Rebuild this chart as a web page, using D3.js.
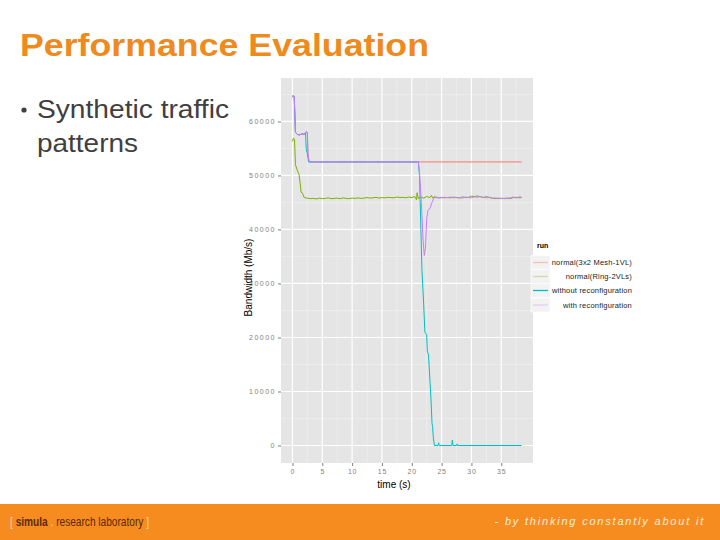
<!DOCTYPE html>
<html>
<head>
<meta charset="utf-8">
<script src="https://cdn.jsdelivr.net/npm/d3@7"></script>
<style>
  body { margin: 0; background: #fff; }
  svg { display: block; }
</style>
</head>
<body>
<script>
// series values: [time (s), bandwidth (Mb/s)]
var runNames = ['normal(3x2 Mesh-1VL)', 'normal(Ring-2VLs)', 'without reconfiguration', 'with reconfiguration'];
var runColors = ['#F8766D', '#7CAE00', '#00BFC4', '#C77CFF'];

var meshData = [[0,64500],[0.1,64800],[0.3,64600],[0.5,58000],[0.8,57600],[1.2,57500],[1.6,57700],[2.0,57600],
  [2.3,58100],[2.5,58000],[2.6,54000],[2.8,52500],[38.4,52500]];

var ringData = [[0,56300],[0.15,56900],[0.35,56600],[0.5,52000],[0.8,51000],[1.1,50200],[1.3,48500],[1.45,46900],
  [1.7,46700],[1.9,46000],[2.3,45800],[2.5,45800],[3,45700],[3.5,45750],[4,45650],[4.5,45800],[5,45700],[5.5,45750],
  [6,45850],[6.5,45700],[7,45750],[7.5,45800],[8,45700],[8.5,45850],[9,45750],[9.5,45700],[10,45800],[10.5,45750],
  [11,45850],[11.5,45750],[12,45800],[12.5,45900],[13,45800],[13.5,45850],[14,45950],[14.5,45800],[15,45900],
  [15.5,45850],[16,45950],[16.5,45900],[17,45850],[17.5,46000],[18,45900],[18.5,45950],[19,45850],[19.5,46000],
  [20,45900],[20.5,46100],[20.8,45500],[20.9,46800],[21.1,45700],[21.5,46000],[22,45800],[22.5,46100],[23,45900],
  [23.3,46300],[23.5,45800],[24,46000],[24.5,45900],[25,45850],[25.5,45950],[26,45900],[26.5,45850],[27,46000],
  [27.5,45900],[28,45800],[28.5,46050],[29,45900],[29.5,45950],[30,46150],[30.5,46100],[31,46200],[31.5,46050],
  [32,45900],[32.5,46100],[33,45950],[33.5,45800],[34,45700],[34.5,45800],[35,45700],[35.5,45750],[36,45800],
  [36.5,45700],[37,45900],[37.5,45950],[38,45850],[38.4,45900]];

var withoutData = [[0,64500],[0.1,64800],[0.3,64600],[0.5,58000],[0.8,57600],[1.2,57500],[1.6,57700],[2.0,57600],
  [2.2,58000],[2.3,55000],[2.5,54000],[2.7,52500],[21.1,52500],[21.3,50000],[21.7,32600],[22.0,26000],[22.2,21000],
  [22.5,20500],[22.6,17500],[22.8,16800],[23.1,11000],[23.2,9000],[23.4,4000],[23.5,3500],[23.6,1500],[23.8,0],
  [24.4,0],[24.5,500],[24.6,0],[26.7,0],[26.8,1000],[26.9,0],[27.5,0],[27.6,300],[27.7,0],[38.4,0]];

var withData = [[0,64500],[0.1,64800],[0.3,64600],[0.5,58000],[0.8,57600],[1.2,57500],[1.6,57700],[2.0,57600],
  [2.3,58100],[2.5,58000],[2.6,54000],[2.8,52500],[21.1,52500],[21.3,50500],[21.6,45000],[21.9,38000],[22.1,35200],
  [22.3,36500],[22.5,42000],[22.7,43500],[23.1,44000],[23.3,44800],[23.6,45500],[23.8,46200],[24.0,45800],
  [24.2,45900],[24.5,45800],[25,45950],[25.5,45850],[26,45900],[26.5,46000],[27,45850],[27.5,45950],[28,45900],
  [28.5,45800],[29,46000],[29.5,45900],[30,45850],[30.5,46050],[31,45950],[31.5,46100],[32,45950],[32.5,45850],
  [33,45900],[33.5,45750],[34,45850],[34.5,45700],[35,45800],[35.5,45700],[36,45750],[36.5,45850],[37,46000],
  [37.5,45800],[38,46050],[38.4,46000]];

var xTicks = [0, 5, 10, 15, 20, 25, 30, 35];
var xMinor = [2.5, 7.5, 12.5, 17.5, 22.5, 27.5, 32.5, 37.5];
var yTicks = [0, 10000, 20000, 30000, 40000, 50000, 60000];
var yMinor = [5000, 15000, 25000, 35000, 45000, 55000, 65000];

var allSeries = [meshData, ringData, withoutData, withData];

var svg = d3.select('body').append('svg').attr('width', 720).attr('height', 540);

// slide title and bullet (the slide is a bit stretched horizontally)
svg.append('text').attr('x', 20).attr('y', 56)
  .attr('font-family', 'Liberation Sans, Arial, sans-serif').attr('font-weight', 'bold')
  .attr('font-size', 32).attr('fill', '#EE8A1E')
  .attr('textLength', 409).attr('lengthAdjust', 'spacingAndGlyphs').text('Performance Evaluation');
svg.append('circle').attr('cx', 24).attr('cy', 110).attr('r', 2.6).attr('fill', '#404040');
svg.append('text').attr('x', 37).attr('y', 118)
  .attr('font-family', 'Liberation Sans, Arial, sans-serif').attr('font-size', 25).attr('fill', '#404040')
  .attr('textLength', 192).attr('lengthAdjust', 'spacingAndGlyphs').text('Synthetic traffic');
svg.append('text').attr('x', 37).attr('y', 152)
  .attr('font-family', 'Liberation Sans, Arial, sans-serif').attr('font-size', 25).attr('fill', '#404040')
  .attr('textLength', 101).attr('lengthAdjust', 'spacingAndGlyphs').text('patterns');

// plot panel
var px0 = 281, px1 = 533, py0 = 78, py1 = 463;
var x = d3.scaleLinear().domain([-1.92, 40.32]).range([px0, px1]);
var y = d3.scaleLinear().domain([-3240, 68040]).range([py1, py0]);

svg.append('rect').attr('x', px0).attr('y', py0).attr('width', px1 - px0).attr('height', py1 - py0).attr('fill', '#E5E5E5');

var grid = svg.append('g');
grid.selectAll('.vmin').data(xMinor).enter().append('line')
  .attr('x1', d => x(d)).attr('x2', d => x(d)).attr('y1', py0).attr('y2', py1)
  .attr('stroke', '#F2F2F2').attr('stroke-width', 0.6);
grid.selectAll('.hmin').data(yMinor).enter().append('line')
  .attr('y1', d => y(d)).attr('y2', d => y(d)).attr('x1', px0).attr('x2', px1)
  .attr('stroke', '#F2F2F2').attr('stroke-width', 0.6);
grid.selectAll('.vmaj').data(xTicks).enter().append('line')
  .attr('x1', d => x(d)).attr('x2', d => x(d)).attr('y1', py0).attr('y2', py1)
  .attr('stroke', '#fff').attr('stroke-width', 1.2);
grid.selectAll('.hmaj').data(yTicks).enter().append('line')
  .attr('y1', d => y(d)).attr('y2', d => y(d)).attr('x1', px0).attr('x2', px1)
  .attr('stroke', '#fff').attr('stroke-width', 1.2);

// axes
var xAxis = d3.axisBottom(x).tickValues(xTicks).tickSize(3).tickPadding(3);
var yAxis = d3.axisLeft(y).tickValues(yTicks).tickSize(3).tickPadding(2).tickFormat(d3.format('d'));
var gx = svg.append('g').attr('transform', 'translate(0,' + py1 + ')').call(xAxis);
var gy = svg.append('g').attr('transform', 'translate(' + px0 + ',0)').call(yAxis);
[gx, gy].forEach(function(g)  {
  g.select('.domain').remove();
  g.selectAll('line').attr('stroke', '#7F7F7F');
  g.selectAll('text').attr('fill', '#7F7F7F').attr('font-size', 7)
    .attr('font-family', 'Liberation Sans, Arial, sans-serif');
});
gy.selectAll('text').attr('letter-spacing', 1.5);
gx.selectAll('text').attr('letter-spacing', 0.8);

svg.append('text').attr('x', 394).attr('y', 488).attr('text-anchor', 'middle')
  .attr('font-family', 'Liberation Sans, Arial, sans-serif').attr('font-size', 10).text('time (s)');
svg.append('text').attr('transform', 'translate(252,' + ((py0 + py1) / 2 + 7) + ') rotate(-90)')
  .attr('text-anchor', 'middle')
  .attr('font-family', 'Liberation Sans, Arial, sans-serif').attr('font-size', 10).text('Bandwidth (Mb/s)');

// lines
var line = d3.line().x(d => x(d[0])).y(d => y(d[1]));
svg.append('g').selectAll('path').data(allSeries).enter().append('path')
  .attr('d', d => line(d)).attr('fill', 'none')
  .attr('stroke', (d, i) => runColors[i]).attr('stroke-width', 1);

// legend
var leg = svg.append('g');
leg.append('text').attr('x', 537).attr('y', 248).attr('font-weight', 'bold')
  .attr('font-family', 'Liberation Sans, Arial, sans-serif').attr('font-size', 7).text('run');
var legRows = [262.5, 276.5, 290.5, 305];
var legAlpha = [0.4, 0.3, 1, 0.3];
runNames.forEach(function(name, i)  {
  var cy = legRows[i];
  leg.append('rect').attr('x', 531).attr('y', cy - 7).attr('width', 19).attr('height', 14)
    .attr('fill', '#F2F2F2').attr('stroke', '#fff').attr('stroke-width', 0.6);
  leg.append('line').attr('x1', 533).attr('x2', 548).attr('y1', cy).attr('y2', cy)
    .attr('stroke', runColors[i]).attr('stroke-width', 1.3).attr('opacity', legAlpha[i]);
  leg.append('text').attr('x', 632).attr('y', cy + 2.5).attr('text-anchor', 'end')
    .attr('font-family', 'Liberation Sans, Arial, sans-serif').attr('font-size', 7.5).attr('fill', '#222')
    .attr('letter-spacing', 0.2).text(name);
});

// footer band
svg.append('rect').attr('x', 0).attr('y', 504).attr('width', 720).attr('height', 36).attr('fill', '#F68B1F');
var ft = svg.append('text').attr('transform', 'translate(10,526) scale(0.78,1)')
  .attr('font-family', 'Liberation Sans, Arial, sans-serif').attr('font-size', 13);
ft.append('tspan').attr('fill', '#FCD9B0').text('[ ');
ft.append('tspan').attr('fill', '#5A2A05').attr('font-weight', 'bold').text('simula');
ft.append('tspan').attr('fill', '#FCD9B0').text(' . ');
ft.append('tspan').attr('fill', '#5A2A05').text('research laboratory');
ft.append('tspan').attr('fill', '#FCD9B0').text(' ]');
svg.append('text').attr('x', 705).attr('y', 525).attr('text-anchor', 'end')
  .attr('font-family', 'Liberation Sans, Arial, sans-serif').attr('font-style', 'italic')
  .attr('font-size', 11).attr('letter-spacing', 1.8).attr('fill', '#FDEBD6')
  .text('- by thinking constantly about it');
</script>
</body>
</html>
